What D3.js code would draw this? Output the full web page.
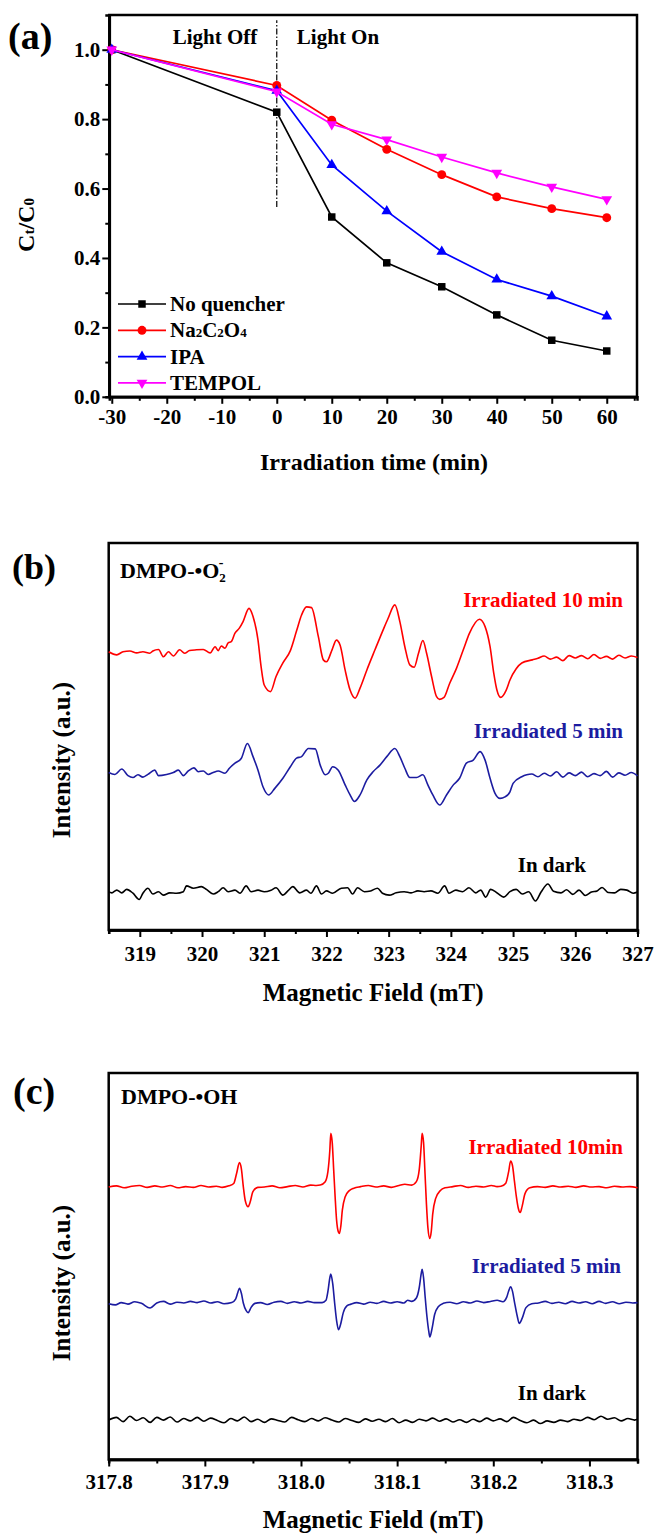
<!DOCTYPE html>
<head>
  <meta charset="utf-8">
  <style>
  body { margin: 0; background: #fff; }
  svg text { font-family: 'Liberation Serif', 'DejaVu Serif', serif !important; font-weight: bold; }
  .frame { fill: none; stroke: #000; stroke-width: 2.5px; }
  .axis path { stroke: #000; stroke-width: 2.5px; }
  .axis line { stroke: #000; stroke-width: 2px; }
  .axis text { font-size: 21px; fill: #000; }
  </style>
  <title>Quenching and EPR</title>
</head>
<body>
<svg width="657" height="1536"></svg>
<script src="https://d3js.org/d3.v7.min.js"></script>
<script>
// ---- panel (a): Ct/C0 vs irradiation time ----
var times = [-30, 0, 10, 20, 30, 40, 50, 60];
var noQuencher = [1.0, 0.82, 0.518, 0.386, 0.317, 0.236, 0.163, 0.132];
var na2c2o4 = [1.0, 0.897, 0.797, 0.713, 0.64, 0.576, 0.542, 0.516];
var ipa = [1.0, 0.882, 0.668, 0.535, 0.418, 0.338, 0.29, 0.232];
var tempol = [1.0, 0.879, 0.785, 0.741, 0.691, 0.645, 0.605, 0.569];
var lightSwitch = [0.547, 1.085];   // extent of dash-dot line at t = 0

// ---- panel (b): DMPO-O2- spectra, [field mT, intensity a.u.] ----
var o2Red = [[318.50,71.9],[318.63,71.1],[318.73,71.9],[318.84,72.1],[318.95,71.6],[319.05,71.9],[319.16,71.5],[319.21,72.1],[319.30,72.5],[319.38,70.6],[319.46,71.9],[319.54,70.8],[319.64,72.4],[319.72,71.5],[319.80,72.2],[319.91,72.4],[320.02,72.5],[320.13,71.6],[320.21,73.2],[320.26,72.2],[320.31,73.4],[320.37,72.8],[320.42,74.2],[320.47,74.5],[320.53,76.7],[320.60,78.0],[320.66,79.7],[320.755,83.1],[320.82,81.0],[320.90,74.9],[320.95,68.0],[321.00,63.3],[321.10,61.6],[321.19,65.5],[321.30,69.0],[321.42,72.2],[321.52,77.3],[321.60,81.4],[321.68,83.5],[321.76,83.3],[321.87,75.8],[321.95,69.8],[322.00,69.3],[322.09,72.4],[322.16,74.9],[322.22,73.6],[322.30,67.2],[322.38,62.0],[322.46,59.9],[322.54,62.5],[322.65,67.2],[322.78,72.4],[322.91,77.5],[322.99,80.5],[323.10,84.0],[323.18,79.7],[323.26,73.2],[323.34,68.5],[323.41,67.9],[323.48,71.5],[323.55,74.8],[323.61,71.5],[323.69,65.5],[323.77,60.3],[323.82,59.6],[323.89,60.1],[323.98,63.7],[324.09,67.6],[324.20,72.4],[324.30,76.7],[324.46,80.3],[324.55,78.4],[324.63,73.2],[324.69,66.3],[324.74,62.0],[324.80,60.1],[324.89,62.0],[324.95,64.6],[325.05,67.5],[325.14,69.0],[325.31,69.8],[325.40,70.2],[325.50,70.8],[325.60,70.0],[325.70,70.5],[325.80,69.6],[325.90,70.9],[326.00,70.3],[326.10,70.9],[326.20,70.1],[326.30,71.2],[326.40,70.2],[326.50,70.7],[326.60,70.0],[326.70,71.0],[326.80,70.3],[326.90,70.8],[327.00,70.4]];
var o2Blue = [[318.50,40.7],[318.60,40.2],[318.71,41.6],[318.81,39.9],[318.89,39.4],[318.97,40.1],[319.05,39.5],[319.13,40.2],[319.24,41.3],[319.30,39.9],[319.43,40.2],[319.54,40.7],[319.62,41.3],[319.70,39.9],[319.78,41.1],[319.87,41.9],[319.94,40.9],[320.02,41.1],[320.10,40.2],[320.18,40.7],[320.26,41.1],[320.37,40.5],[320.44,41.8],[320.53,43.1],[320.63,44.3],[320.73,48.2],[320.82,44.8],[320.90,41.3],[320.98,37.0],[321.07,34.9],[321.17,36.6],[321.30,39.2],[321.42,42.2],[321.52,44.4],[321.60,44.8],[321.71,46.9],[321.82,46.8],[321.90,42.6],[321.98,40.1],[322.03,40.5],[322.10,42.2],[322.19,41.3],[322.30,37.5],[322.38,34.9],[322.45,33.2],[322.54,34.9],[322.65,38.8],[322.75,40.9],[322.86,42.6],[322.97,44.8],[323.10,46.9],[323.18,44.8],[323.26,41.8],[323.34,39.4],[323.45,39.4],[323.55,40.1],[323.63,37.5],[323.71,34.9],[323.82,32.3],[323.93,34.9],[324.04,37.5],[324.14,39.2],[324.25,43.1],[324.36,43.9],[324.47,46.1],[324.55,43.9],[324.63,39.2],[324.71,35.3],[324.79,34.0],[324.87,34.4],[324.95,35.7],[325.00,37.9],[325.14,39.6],[325.22,40.1],[325.30,40.3],[325.40,39.6],[325.50,40.5],[325.60,39.8],[325.70,40.9],[325.80,39.5],[325.90,40.6],[326.00,39.9],[326.10,40.8],[326.20,39.6],[326.30,40.4],[326.40,39.9],[326.50,41.0],[326.60,39.5],[326.70,40.6],[326.80,40.0],[326.90,40.7],[327.00,39.8]];
var o2Dark = [[318.50,9.8],[318.55,9.6],[318.63,10.3],[318.71,9.6],[318.79,10.5],[318.89,9.5],[318.99,7.9],[319.05,9.5],[319.13,10.8],[319.21,9.3],[319.30,9.9],[319.38,9.0],[319.48,9.6],[319.59,9.5],[319.70,9.9],[319.75,11.4],[319.86,10.8],[319.99,11.2],[320.07,10.5],[320.18,9.3],[320.26,9.9],[320.34,10.9],[320.42,9.9],[320.53,10.3],[320.61,9.5],[320.71,11.4],[320.79,9.9],[320.90,10.3],[321.00,9.9],[321.11,10.3],[321.19,10.9],[321.30,9.0],[321.38,10.1],[321.46,11.2],[321.57,9.6],[321.68,10.3],[321.75,9.5],[321.84,11.4],[321.92,9.3],[322.00,10.1],[322.10,9.5],[322.24,10.8],[322.34,10.9],[322.42,9.3],[322.50,10.9],[322.61,9.9],[322.71,10.1],[322.82,10.8],[322.90,9.5],[323.01,9.0],[323.12,9.6],[323.25,9.9],[323.36,9.6],[323.47,10.1],[323.57,9.9],[323.68,10.1],[323.79,9.5],[323.90,11.4],[323.97,9.5],[324.08,10.3],[324.19,9.9],[324.29,10.9],[324.40,9.6],[324.48,10.3],[324.56,8.5],[324.64,10.5],[324.75,9.5],[324.85,8.5],[324.95,9.9],[325.05,10.5],[325.15,9.3],[325.25,9.9],[325.36,7.5],[325.45,9.8],[325.56,11.9],[325.65,10.0],[325.77,9.6],[325.86,10.4],[325.96,9.2],[326.06,10.3],[326.16,8.9],[326.26,9.8],[326.35,10.1],[326.43,11.0],[326.53,9.7],[326.63,9.6],[326.73,10.5],[326.83,10.3],[326.93,9.5],[327.00,9.8]];

// ---- panel (c): DMPO-OH spectra ----
var ohRed = [[317.800,70.5],[317.808,70.8],[317.816,70.3],[317.824,70.7],[317.832,70.9],[317.840,70.4],[317.848,70.8],[317.856,70.5],[317.864,70.9],[317.872,70.3],[317.880,70.6],[317.888,70.4],[317.896,70.9],[317.904,70.5],[317.912,70.7],[317.918,70.4],
  [317.925,70.8],[317.930,71.4],[317.933,74.0],[317.936,76.8],[317.938,75.2],[317.940,70.6],[317.942,67.0],[317.945,65.4],[317.947,66.5],[317.950,69.3],[317.955,70.4],
  [317.962,70.5],[317.970,70.8],[317.978,70.3],[317.986,70.6],[317.994,70.9],[318.002,70.5],[318.010,71.0],[318.016,70.9],
  [318.020,71.0],[318.025,71.8],[318.028,74.5],[318.030,80.0],[318.031,84.4],[318.0325,82.0],[318.034,75.0],[318.0355,68.0],[318.037,62.0],[318.039,58.8],[318.040,58.5],[318.0415,60.5],[318.043,64.5],[318.046,68.0],[318.050,69.5],[318.055,70.2],
  [318.062,70.6],[318.070,70.9],[318.078,70.5],[318.086,70.8],[318.094,70.4],[318.102,70.9],[318.108,71.2],
  [318.115,71.0],[318.120,71.9],[318.123,75.0],[318.125,81.0],[318.126,84.4],[318.1275,82.0],[318.129,74.0],[318.1305,66.0],[318.132,60.0],[318.134,57.2],[318.1355,59.0],[318.137,63.5],[318.140,67.5],[318.145,69.6],[318.150,70.3],
  [318.158,70.6],[318.166,70.9],[318.174,70.4],[318.182,70.7],[318.190,70.5],[318.198,70.9],[318.204,70.6],
  [318.208,70.7],[318.213,71.5],[318.216,74.5],[318.218,77.2],[318.220,76.0],[318.222,72.0],[318.224,68.0],[318.226,65.0],[318.228,63.9],[318.230,65.5],[318.233,68.8],[318.238,70.3],
  [318.246,70.6],[318.254,70.4],[318.262,70.8],[318.270,70.5],[318.278,70.7],[318.286,70.4],[318.294,70.8],[318.302,70.5],[318.310,70.6],[318.318,70.3],[318.326,70.7],[318.334,70.5],[318.342,70.6],[318.350,70.3]];
var ohBlue = [[317.800,40.3],[317.807,40.0],[317.813,40.6],[317.820,40.2],[317.827,40.8],[317.834,40.4],[317.843,39.2],[317.850,40.5],[317.857,40.9],[317.864,40.2],[317.871,40.7],[317.878,40.5],[317.885,40.9],[317.892,40.6],[317.899,41.0],[317.906,40.5],[317.913,40.8],[317.920,40.3],
  [317.928,40.6],[317.932,41.5],[317.934,43.0],[317.936,44.3],[317.938,43.0],[317.940,40.5],[317.943,38.5],[317.945,38.0],[317.948,39.3],[317.952,40.4],
  [317.958,40.6],[317.965,40.1],[317.972,40.7],[317.979,40.9],[317.986,40.4],[317.993,40.8],[318.000,40.5],[318.007,40.9],[318.014,40.6],
  [318.022,40.6],[318.026,41.2],[318.028,43.5],[318.030,47.0],[318.031,48.0],[318.033,45.5],[318.035,40.5],[318.037,36.0],[318.039,33.6],[318.041,34.8],[318.044,38.0],[318.048,39.8],[318.052,40.2],
  [318.058,40.6],[318.065,40.2],[318.072,40.7],[318.079,40.4],[318.086,40.9],[318.093,40.5],[318.100,40.8],[318.107,40.5],[318.111,41.2],
  [318.115,40.9],[318.120,41.8],[318.123,44.5],[318.125,48.0],[318.126,49.2],[318.1275,47.0],[318.129,42.5],[318.131,37.0],[318.133,33.0],[318.134,31.7],[318.136,33.5],[318.139,37.5],[318.143,39.6],[318.148,40.4],
  [318.155,40.7],[318.162,40.3],[318.169,40.8],[318.176,40.5],[318.183,41.0],[318.190,40.6],[318.197,40.9],[318.204,41.2],
  [318.210,40.8],[318.214,42.0],[318.216,43.6],[318.218,44.7],[318.220,43.5],[318.222,40.8],[318.225,37.0],[318.227,35.2],[318.230,36.5],[318.234,39.3],[318.240,40.3],
  [318.247,40.5],[318.254,40.9],[318.261,40.4],[318.268,40.7],[318.275,40.3],[318.282,40.9],[318.289,40.5],[318.296,40.8],[318.303,40.3],[318.310,40.9],[318.317,40.4],[318.324,40.8],[318.331,40.3],[318.338,40.7],[318.345,40.5],[318.350,40.6]];
var ohDark = [[317.800,10.2],[317.808,10.9],[317.815,9.8],[317.822,11.2],[317.829,10.1],[317.836,10.8],[317.843,9.6],[317.850,10.9],[317.857,10.2],[317.864,11.0],[317.871,9.7],[317.878,10.6],[317.885,10.0],[317.892,10.9],[317.899,9.9],[317.906,10.7],[317.913,10.1],[317.920,9.5],[317.927,10.6],[317.934,10.0],[317.941,11.0],[317.948,9.8],[317.955,10.4],[317.962,9.6],[317.969,10.5],[317.976,10.1],[317.983,9.7],[317.990,10.9],[317.997,10.3],[318.004,9.8],[318.011,10.6],[318.018,10.0],[318.025,10.8],[318.032,10.2],[318.039,9.7],[318.046,10.6],[318.053,10.1],[318.060,9.6],[318.067,10.5],[318.074,9.9],[318.081,10.4],[318.088,9.8],[318.095,10.6],[318.102,9.5],[318.109,10.2],[318.116,9.6],[318.123,10.4],[318.130,10.0],[318.137,10.7],[318.144,9.9],[318.151,10.5],[318.158,9.7],[318.165,10.3],[318.172,9.6],[318.179,10.4],[318.186,9.8],[318.193,10.7],[318.200,10.0],[318.207,10.5],[318.214,9.8],[318.221,10.9],[318.228,10.1],[318.235,9.5],[318.242,10.2],[318.249,9.3],[318.256,10.0],[318.263,9.6],[318.270,10.2],[318.277,9.8],[318.284,10.4],[318.291,10.1],[318.298,10.9],[318.305,10.3],[318.312,11.2],[318.319,10.4],[318.326,10.8],[318.333,10.0],[318.340,10.6],[318.347,10.2],[318.350,10.4]];

var svg = d3.select("svg");

function frame(x, y) {
  svg.append("rect").attr("class", "frame")
    .attr("x", x.range()[0]).attr("y", y.range()[1])
    .attr("width", x.range()[1] - x.range()[0])
    .attr("height", y.range()[0] - y.range()[1]);
}

function bottomAxis(x, y, major, minor, fmt, pad) {
  var yb = y.range()[0];
  svg.append("g").attr("class", "axis")
    .attr("transform", "translate(0," + yb + ")")
    .call(d3.axisBottom(x).tickValues(minor).tickSize(4).tickFormat(""));
  svg.append("g").attr("class", "axis")
    .attr("transform", "translate(0," + yb + ")")
    .call(d3.axisBottom(x).tickValues(major).tickSize(7).tickSizeOuter(0)
      .tickPadding(pad).tickFormat(fmt));
}

// ================= (a) =================
var xa = d3.scaleLinear().domain([-30.45, 65.5]).range([109.3, 637]);
var ya = d3.scaleLinear().domain([0, 1.1]).range([396.8, 15]);

svg.append("g").attr("class", "axis")
  .attr("transform", "translate(" + xa.range()[0] + ",0)")
  .call(d3.axisLeft(ya).tickValues(d3.range(0.1, 1.1, 0.2)).tickSize(4).tickFormat(""));
svg.append("g").attr("class", "axis")
  .attr("transform", "translate(" + xa.range()[0] + ",0)")
  .call(d3.axisLeft(ya).tickValues(d3.range(0, 1.01, 0.2)).tickSize(7).tickSizeOuter(0)
    .tickPadding(2).tickFormat(d3.format(".1f")));
bottomAxis(xa, ya, d3.range(-30, 61, 10), d3.range(-25, 66, 10), function(d) { return String(d); }, 5);
frame(xa, ya);

svg.append("line")
  .attr("x1", xa(0)).attr("x2", xa(0))
  .attr("y1", ya(lightSwitch[0])).attr("y2", ya(lightSwitch[1]))
  .attr("stroke", "#000").attr("stroke-width", 1.2)
  .attr("stroke-dasharray", "6,2,1.5,2");

var seriesA = [
  {name: "No quencher", values: noQuencher, color: "#000000", symbol: d3.symbolSquare, size: 56, rot: 0},
  {name: "Na2C2O4", values: na2c2o4, color: "#ff0000", symbol: d3.symbolCircle, size: 62, rot: 0},
  {name: "IPA", values: ipa, color: "#0000ff", symbol: d3.symbolTriangle, size: 50, rot: 0},
  {name: "TEMPOL", values: tempol, color: "#ff00ff", symbol: d3.symbolTriangle, size: 50, rot: 180}
];

var lineA = d3.line()
  .x(function(d, i) { return xa(times[i]); })
  .y(function(d) { return ya(d); });

seriesA.forEach(function(s) {
  svg.append("path").datum(s.values)
    .attr("d", lineA).attr("fill", "none")
    .attr("stroke", s.color).attr("stroke-width", 1.7);
  svg.append("g").selectAll("path").data(s.values).enter().append("path")
    .attr("d", d3.symbol().type(s.symbol).size(s.size))
    .attr("transform", function(d, i) {
      return "translate(" + xa(times[i]) + "," + ya(d) + ") rotate(" + s.rot + ")";
    })
    .attr("fill", s.color);
});

// legend
var legend = svg.append("g").attr("transform", "translate(118,304)");
seriesA.forEach(function(s, i) {
  var g = legend.append("g").attr("transform", "translate(0," + (i * 26.3) + ")");
  g.append("line").attr("x1", 0).attr("x2", 48).attr("stroke", s.color).attr("stroke-width", 1.7);
  g.append("path").attr("d", d3.symbol().type(s.symbol).size(s.size)())
    .attr("transform", "translate(24,0) rotate(" + s.rot + ")").attr("fill", s.color);
  var t = g.append("text").attr("x", 52).attr("y", 7).style("font-size", "21px");
  if (s.name === "Na2C2O4") {
    t.append("tspan").text("Na");
    t.append("tspan").text("2").style("font-size", "13px");
    t.append("tspan").text("C");
    t.append("tspan").text("2").style("font-size", "13px");
    t.append("tspan").text("O");
    t.append("tspan").text("4").style("font-size", "13px");
  } else {
    t.text(s.name);
  }
});

svg.append("text").attr("x", 215).attr("y", 44).attr("text-anchor", "middle")
  .style("font-size", "21px").text("Light Off");
svg.append("text").attr("x", 338).attr("y", 44).attr("text-anchor", "middle")
  .style("font-size", "21px").text("Light On");

svg.append("text").attr("x", 374).attr("y", 470).attr("text-anchor", "middle")
  .style("font-size", "24px").text("Irradiation time (min)");

var ylab = svg.append("text").attr("transform", "translate(34,225) rotate(-90)")
  .attr("text-anchor", "middle").style("font-size", "24px");
ylab.append("tspan").text("C");
ylab.append("tspan").text("t").style("font-size", "15px");
ylab.append("tspan").text("/C");
ylab.append("tspan").text("0").style("font-size", "15px");

svg.append("text").attr("x", 8).attr("y", 49).style("font-size", "38px").text("(a)");

// ================= spectra panels =================
function spectraPanel(opt) {
  var x = d3.scaleLinear().domain(opt.xDomain).range([108.7, 637.5]);
  var y = d3.scaleLinear().domain([0, 100]).range([opt.bottom, opt.top]);
  bottomAxis(x, y, opt.major, opt.minor, opt.fmt, opt.pad);
  frame(x, y);

  var line = d3.line().curve(d3.curveMonotoneX)
    .x(function(d) { return x(d[0]); }).y(function(d) { return y(d[1]); });
  opt.curves.forEach(function(c) {
    svg.append("path").datum(c.data).attr("d", line).attr("fill", "none")
      .attr("stroke", c.color).attr("stroke-width", 1.6).attr("stroke-linejoin", "round");
  });
  opt.labels.forEach(function(l) {
    svg.append("text").attr("x", l.x).attr("y", l.y).attr("text-anchor", l.anchor || "end")
      .attr("fill", l.color).style("font-size", "21px").text(l.text);
  });

  svg.append("text").attr("x", (x.range()[0] + x.range()[1]) / 2).attr("y", opt.titleY)
    .attr("text-anchor", "middle").style("font-size", "25px").text("Magnetic Field (mT)");
  svg.append("text").attr("transform", "translate(70," + opt.ylabY + ") rotate(-90)")
    .attr("text-anchor", "middle").style("font-size", "25px").text("Intensity (a.u.)");
  return {x: x, y: y};
}

spectraPanel({
  xDomain: [318.5, 327], top: 543, bottom: 930,
  major: d3.range(319, 327.1, 1), minor: d3.range(318.5, 327.1, 1), fmt: d3.format("d"), pad: 9,
  curves: [{data: o2Red, color: "#ff0000"}, {data: o2Blue, color: "#1c1ca0"}, {data: o2Dark, color: "#000000"}],
  labels: [
    {x: 623, y: 607, text: "Irradiated 10 min", color: "#ff0000"},
    {x: 623, y: 738, text: "Irradiated 5 min", color: "#1c1ca0"},
    {x: 586, y: 872, text: "In dark", color: "#000000"}
  ],
  titleY: 1001, ylabY: 760
});
var dmpoO2 = svg.append("text").attr("x", 120).attr("y", 578).style("font-size", "22px");
dmpoO2.append("tspan").text("DMPO-\u2022O");
dmpoO2.append("tspan").text("2").style("font-size", "13px").attr("dy", 4);
dmpoO2.append("tspan").text("-").style("font-size", "14px").attr("dx", -7).attr("dy", -15);
svg.append("text").attr("x", 12).attr("y", 579)
  .style("font-family", "Lato, 'Open Sans', sans-serif").style("font-size", "36px").text("(b)");

spectraPanel({
  xDomain: [317.8, 318.35], top: 1073, bottom: 1459.5,
  major: d3.range(317.8, 318.31, 0.1), minor: d3.range(317.85, 318.36, 0.1), fmt: d3.format(".1f"), pad: 8,
  curves: [{data: ohRed, color: "#ff0000"}, {data: ohBlue, color: "#1c1ca0"}, {data: ohDark, color: "#000000"}],
  labels: [
    {x: 623, y: 1154, text: "Irradiated 10min", color: "#ff0000"},
    {x: 621, y: 1273, text: "Irradiated 5 min", color: "#1c1ca0"},
    {x: 586, y: 1400, text: "In dark", color: "#000000"}
  ],
  titleY: 1528, ylabY: 1283
});
svg.append("text").attr("x", 121).attr("y", 1104).style("font-size", "22px").text("DMPO-\u2022OH");
svg.append("text").attr("x", 13).attr("y", 1104).style("font-size", "38px").text("(c)");
</script>
</body>
